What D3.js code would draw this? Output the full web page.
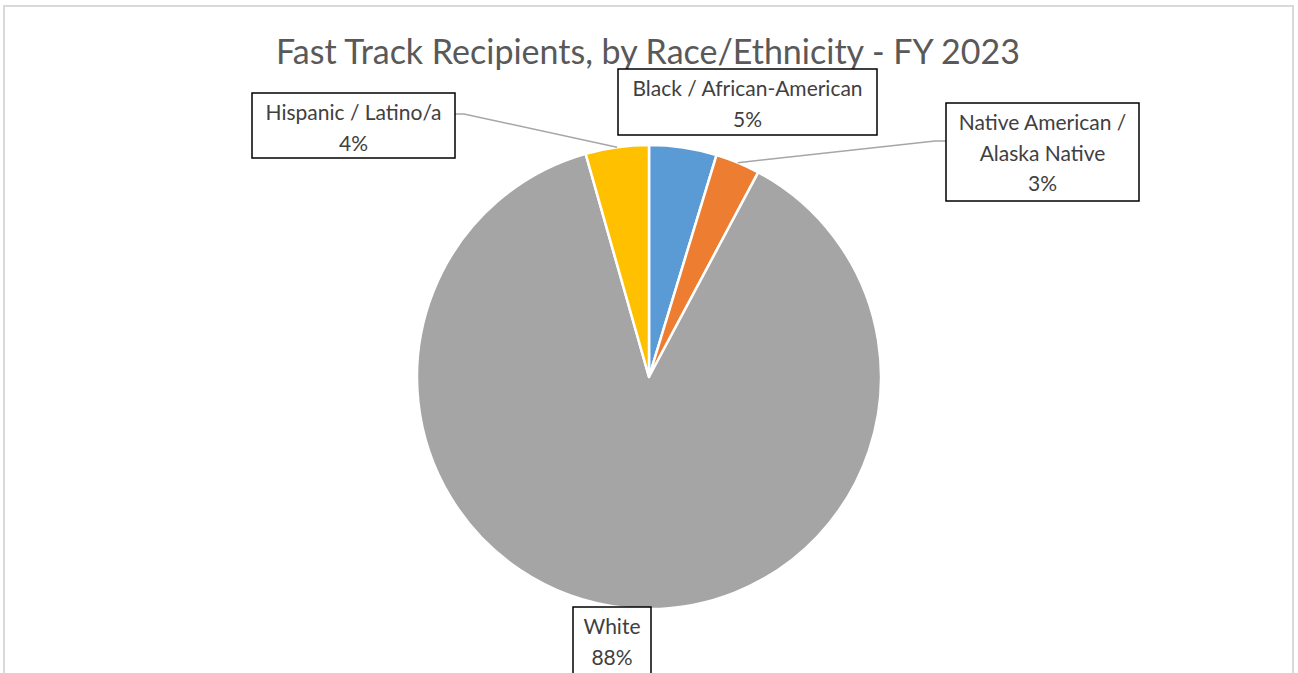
<!DOCTYPE html>
<html>
<head>
<meta charset="utf-8">
<script src="https://cdnjs.cloudflare.com/ajax/libs/d3/7.8.5/d3.min.js"></script>
<style>
  body { margin: 0; background: #fff; }
  text { font-family: Lato, "Open Sans", sans-serif; fill: #595959; }
</style>
</head>
<body>
<svg id="chart" width="1298" height="673"></svg>
<script>
'use strict'

var width = 1298,
    height = 673,
    title = "Fast Track Recipients, by Race/Ethnicity - FY 2023";

// slices, clockwise from 12 o'clock
var categories = ["Black / African-American", "Native American / Alaska Native", "White", "Hispanic / Latino/a"],
    labelLines = [["Black / African-American"], ["Native American /", "Alaska Native"], ["White"], ["Hispanic / Latino/a"]],
    values = [4.7, 3.1, 87.8, 4.4],
    colors = ["#5B9BD5", "#ED7D31", "#A5A5A5", "#FFC000"];

// label box layout: [left, top, width, height] and whether a leader line is drawn
var boxes = [[618, 69, 259, 66], [946, 103, 193, 98], [573, 607, 78, 80], [252, 93, 203, 65]],
    leaders = [false, true, false, true];

var cx = 649, cy = 377, radius = 232;

var svg = d3.select("#chart");

svg.append("rect")
    .attr("x", 4).attr("y", 6)
    .attr("width", 1289).attr("height", 700)
    .attr("fill", "none")
    .attr("stroke", "#d9d9d9")
    .attr("stroke-width", 2);

svg.append("text")
    .attr("x", 648).attr("y", 64)
    .attr("text-anchor", "middle")
    .style("font-size", "34px")
    .text(title);

var total = d3.sum(values);
var pie = d3.pie().sort(null).value(function(d) { return d; });
var arcs = pie(values);
var arc = d3.arc().innerRadius(0).outerRadius(radius);

var g = svg.append("g").attr("transform", "translate(" + cx + "," + cy + ")");

g.selectAll("path")
  .data(arcs)
  .enter().append("path")
    .attr("d", arc)
    .attr("fill", function(d, i) { return colors[i]; })
    .attr("stroke", "#fff")
    .attr("stroke-width", 2.5)
    .attr("stroke-linejoin", "round");

// leader lines
arcs.forEach(function(d, i) {
  if (!leaders[i]) return;
  var mid = (d.startAngle + d.endAngle) / 2;
  var px = cx + radius * Math.sin(mid),
      py = cy - radius * Math.cos(mid);
  var b = boxes[i];
  var bx, by = b[1] + (i === 1 ? 38 : 21), kx;
  if (px > b[0]) { bx = b[0] + b[2]; kx = bx + 9; }
  else { bx = b[0]; kx = bx - 11; }
  svg.append("polyline")
    .attr("points", [[bx, by], [kx, by], [px, py]].join(" "))
    .attr("fill", "none")
    .attr("stroke", "#a6a6a6")
    .attr("stroke-width", 1.5);
});

// label boxes
arcs.forEach(function(d, i) {
  var b = boxes[i];
  var lab = svg.append("g");
  lab.append("rect")
    .attr("x", b[0]).attr("y", b[1])
    .attr("width", b[2]).attr("height", b[3])
    .attr("fill", "#fff")
    .attr("stroke", "#000")
    .attr("stroke-width", 1.5);
  var lines = labelLines[i].concat([Math.round(d.data / total * 100) + "%"]);
  lab.selectAll("text")
    .data(lines)
    .enter().append("text")
      .attr("x", b[0] + b[2] / 2)
      .attr("y", function(t, j) { return b[1] + 27 + j * 30.5; })
      .attr("text-anchor", "middle")
      .style("font-size", "21px")
      .style("fill", "#404040")
      .text(function(t) { return t; });
});
</script>
</body>
</html>
